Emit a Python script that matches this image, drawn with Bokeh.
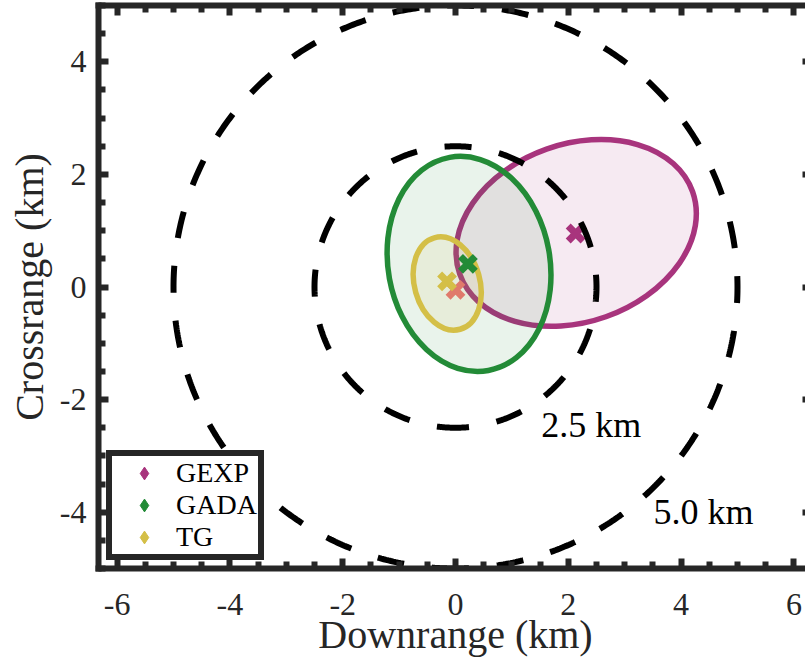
import numpy as np
from bokeh.plotting import figure
from bokeh.models import (Range1d, FixedTicker, LinearAxis, Legend, LegendItem,
                          ColumnDataSource, GlobalInlineStyleSheet)
from bokeh.embed import file_html
from bokeh.resources import INLINE
from bokeh.core.properties import value

# ---------------- data ----------------
names = ["GEXP", "GADA", "TG"]
colors = ["#A8347D", "#238B37", "#D4BF47"]
est_x = [2.13, 0.22, -0.15]
est_y = [0.95, 0.41, 0.10]
ell_x = [2.14, 0.24, -0.147]
ell_y = [0.96, 0.41, 0.062]
ell_w = [4.38, 2.87, 1.16]
ell_h = [3.16, 3.85, 1.69]
ell_angle_deg = [19.5, 10.3, 15.8]
truth_x = [0.0]
truth_y = [-0.05]
truth_color = "#E07A6B"
ring_radii = [2.5, 5.0]
ring_labels = ["2.5 km", "5.0 km"]
ring_label_x = [1.52, 3.51]
ring_label_y = [-2.46, -4.0]
x_ticks = [-6, -4, -2, 0, 2, 4, 6]
x_tick_labels = ["-6", "-4", "-2", "0", "2", "4", "6"]
y_ticks = [-4, -2, 0, 2, 4]
y_tick_labels = ["-4", "-2", "0", "2", "4"]
x_lim = (-6.33, 6.33)
y_lim = (-5.0, 5.0)

FONT = "Liberation Serif"
AXC = "#262626"

FW, FH = 714, 563
p = figure(frame_width=FW, frame_height=FH, output_backend="svg",
           toolbar_location=None,
           x_range=Range1d(*x_lim), y_range=Range1d(*y_lim),
           x_axis_location=None, y_axis_location=None,
           min_border_left=98, min_border_right=3, min_border_top=5,
           min_border_bottom=97)
p.stylesheets = [GlobalInlineStyleSheet(css="html, body {margin: 0; padding: 0; overflow: hidden;}")]
p.outline_line_color = None
p.xgrid.visible = False
p.ygrid.visible = False
p.background_fill_color = "white"
p.border_fill_color = "white"

x_minor = [v for v in np.arange(-6.5, 6.51, 0.5) if v not in x_ticks]
y_minor = [v for v in np.arange(-5.0, 5.01, 0.5) if v not in y_ticks]


def make_axis(kind, loc, labels):
    if kind == "x":
        tk = FixedTicker(ticks=x_ticks, minor_ticks=x_minor)
        ov = dict(zip(x_ticks, x_tick_labels))
        blank = {t: "" for t in x_ticks}
    else:
        tk = FixedTicker(ticks=y_ticks, minor_ticks=y_minor)
        ov = dict(zip(y_ticks, y_tick_labels))
        blank = {t: "" for t in y_ticks}
    ax = LinearAxis(ticker=tk)
    ax.axis_line_width = 6
    ax.axis_line_color = AXC
    ax.axis_line_cap = "square"
    ax.major_tick_in = 10
    ax.major_tick_out = 0
    ax.minor_tick_in = 7
    ax.minor_tick_out = 0
    ax.major_tick_line_width = 6
    ax.minor_tick_line_width = 6
    ax.major_tick_line_color = AXC
    ax.minor_tick_line_color = AXC
    if labels:
        ax.major_label_overrides = ov
        ax.major_label_text_font = FONT
        ax.major_label_text_font_size = "32px"
        ax.major_label_text_color = AXC
        ax.axis_label_text_font = FONT
        ax.axis_label_text_font_size = "40px"
        ax.axis_label_text_font_style = "normal"
        ax.axis_label_text_color = AXC
    else:
        ax.major_label_overrides = blank
        ax.major_label_text_font_size = "1px"
        ax.major_label_standoff = 0
    p.add_layout(ax, loc)
    return ax


bx = make_axis("x", "below", True)
bx.axis_label = "Downrange (km)"
bx.major_label_standoff = 25
bx.axis_label_standoff = -6
ly = make_axis("y", "left", True)
ly.axis_label = "Crossrange (km)"
ly.major_label_standoff = 12
ly.axis_label_standoff = 5
tx = make_axis("x", "above", False)
ry = make_axis("y", "right", False)

# ---------------- ellipses ----------------
ell_src = ColumnDataSource(dict(x=ell_x, y=ell_y, w=ell_w, h=ell_h,
                                a=[np.deg2rad(a) for a in ell_angle_deg],
                                c=colors))
p.ellipse(x="x", y="y", width="w", height="h", angle="a", source=ell_src,
          fill_color="c", fill_alpha=0.1, line_color="c", line_width=5.5)

# ---------------- markers ----------------
p.scatter(truth_x, truth_y, marker="x", size=21, line_width=7,
          line_color=truth_color)
est_src = ColumnDataSource(dict(x=est_x, y=est_y, c=colors))
p.scatter(x="x", y="y", marker="x", size=21, line_width=7, line_color="c",
          source=est_src)

# ---------------- dashed range rings ----------------
px_per_unit = FW / (x_lim[1] - x_lim[0])
dash_on, dash_off = 27, 28
for r in ring_radii:
    start = -np.pi / 2 - (dash_on / 2) / (r * px_per_unit)
    t = np.linspace(start, start + 2 * np.pi, 721)
    p.line(r * np.cos(t), r * np.sin(t), line_color="black", line_width=6,
           line_dash=f"{dash_on} {dash_off}")

p.text(x=ring_label_x, y=ring_label_y, text=ring_labels,
       text_font=value(FONT), text_font_size="36px", text_color="black",
       text_align="left", text_baseline="middle")

# ---------------- legend ----------------
items = []
for i, n in enumerate(names):
    rr = p.scatter([est_x[i]], [est_y[i]], marker="diamond", size=14,
                   fill_color=colors[i], line_color=colors[i])
    rr.visible = False
    items.append(LegendItem(label=n, renderers=[rr]))
leg = Legend(items=items, location="bottom_left", margin=8, padding=1,
             spacing=0, glyph_height=32, glyph_width=62, label_standoff=1,
             label_width=79, label_height=29,
             label_text_font=FONT, label_text_font_size="28px",
             label_text_color="black",
             border_line_width=6, border_line_color=AXC, border_line_alpha=1.0,
             background_fill_color="white", background_fill_alpha=1.0)
p.add_layout(leg)

open("out.html", "w").write(file_html(p, INLINE))
